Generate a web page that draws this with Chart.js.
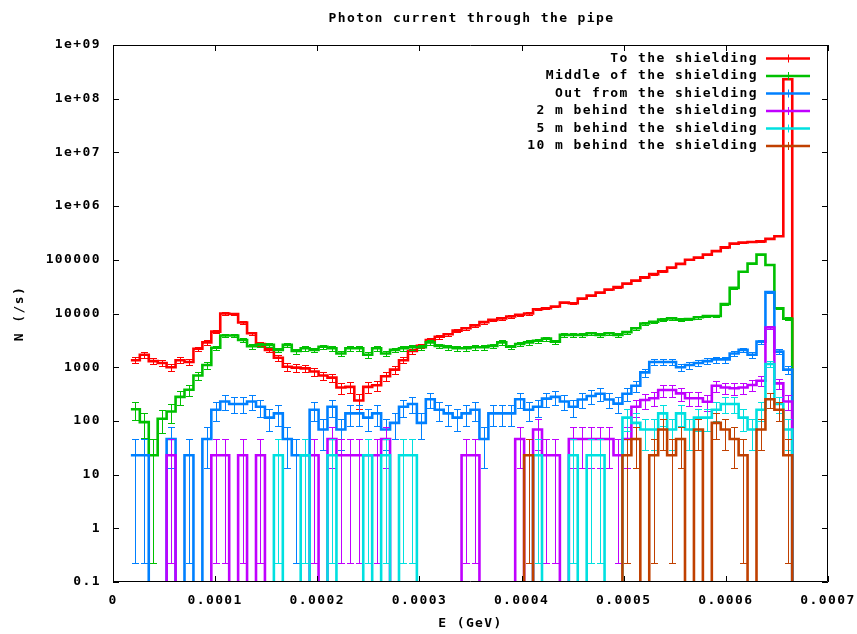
<!DOCTYPE html>
<html>
<head>
<meta charset="utf-8">
<title>Photon current through the pipe</title>
<script src="https://cdn.jsdelivr.net/npm/chart.js@4.4.1/dist/chart.umd.min.js"></script>
<style>
  html, body { margin: 0; padding: 0; background: #fff; }
  #chart { display: block; }
</style>
</head>
<body>
<canvas id="chart" width="857" height="634"></canvas>
<script>
// energy binning: 80 bins over 0 .. 0.0007 GeV, filled from bin 2 to bin 75
const BIN_WIDTH = 0.0007 / 80;
const FIRST_BIN = 2;
const N_BINS = 74;
// left edges of the filled bins plus the closing edge
const binEdges = Array.from({ length: N_BINS + 1 }, (_, i) => (FIRST_BIN + i) * BIN_WIDTH);

// photon rates N (/s) per bin, 0 = empty bin
const toShielding = [
  1350, 1700, 1300, 1200, 1000, 1350, 1250, 2200, 2900, 4600,
  10000, 9800, 6800, 4300, 2700, 2100, 1500, 1020, 980, 950,
  830, 700, 640, 420, 430, 240, 430, 460, 680, 900,
  1350, 2000, 2500, 3200, 3700, 4100, 4800, 5300, 6000, 6900,
  7600, 8100, 8800, 9500, 10000, 12000, 12500, 13500, 16000, 15500,
  19000, 21500, 24500, 28000, 31000, 36000, 41000, 47000, 54000, 61000,
  72000, 84000, 100000, 110000, 125000, 145000, 170000, 200000, 210000, 215000,
  220000, 245000, 275000, 230000000
];
const middleOfShielding = [
  165, 95, 23, 110, 150, 280, 380, 700, 1100, 2300,
  3900, 3900, 3200, 2450, 2600, 2600, 2100, 2600, 2000, 2250,
  2100, 2400, 2250, 1800, 2250, 2250, 1700, 2250, 1800, 2100,
  2250, 2350, 2350, 2900, 2500, 2350, 2250, 2250, 2350, 2350,
  2500, 2900, 2400, 2700, 2900, 3100, 3400, 3000, 4000, 4000,
  4000, 4300, 4000, 4300, 4000, 4500, 5300, 6500, 7000, 7700,
  8100, 7700, 7900, 8500, 9000, 9000, 15000, 30000, 60000, 85000,
  125000, 80000, 12500, 8000
];
const outFromShielding = [
  23, 23, 0, 0, 46, 0, 23, 0, 46, 161,
  230, 207, 207, 230, 184, 115, 138, 46, 23, 23,
  161, 69, 184, 69, 138, 138, 115, 138, 69, 92,
  184, 207, 92, 253, 161, 138, 115, 138, 161, 46,
  138, 138, 138, 253, 161, 184, 260, 280, 230, 184,
  250, 290, 320, 250, 210, 320, 450, 800, 1250, 1250,
  1250, 1000, 1100, 1200, 1300, 1400, 1400, 1800, 2100, 1700,
  3000, 25000, 1950, 900
];
const behind2m = [
  0, 0, 0, 0, 23, 0, 0, 0, 0, 23,
  23, 0, 23, 0, 23, 0, 0, 0, 0, 0,
  23, 0, 46, 23, 23, 23, 23, 23, 46, 0,
  0, 0, 0, 0, 0, 0, 0, 23, 23, 0,
  0, 0, 0, 46, 0, 69, 23, 23, 0, 46,
  46, 46, 46, 46, 23, 46, 184, 245, 264, 376,
  376, 326, 264, 264, 228, 450, 420, 405, 420, 466,
  560, 5500, 500, 230
];
const behind5m = [
  0, 0, 0, 0, 0, 0, 0, 0, 0, 0,
  0, 0, 0, 0, 0, 0, 23, 0, 0, 23,
  0, 0, 23, 0, 0, 0, 23, 0, 23, 0,
  23, 23, 0, 0, 0, 0, 0, 0, 0, 0,
  0, 0, 0, 0, 0, 23, 0, 0, 0, 23,
  0, 23, 23, 0, 0, 115, 92, 69, 69, 138,
  69, 138, 69, 115, 115, 161, 207, 207, 115, 69,
  161, 1150, 207, 69
];
const behind10m = [
  0, 0, 0, 0, 0, 0, 0, 0, 0, 0,
  0, 0, 0, 0, 0, 0, 0, 0, 0, 0,
  0, 0, 0, 0, 0, 0, 0, 0, 0, 0,
  0, 0, 0, 0, 0, 0, 0, 0, 0, 0,
  0, 0, 0, 0, 23, 0, 0, 0, 0, 0,
  0, 0, 0, 0, 0, 23, 46, 0, 23, 69,
  23, 46, 0, 69, 0, 92, 69, 46, 23, 0,
  69, 253, 161, 23
];

const xTickValues = [0, 0.0001, 0.0002, 0.0003, 0.0004, 0.0005, 0.0006, 0.0007];
const xTickLabels = ['0', '0.0001', '0.0002', '0.0003', '0.0004', '0.0005', '0.0006', '0.0007'];
const yTickValues = [0.1, 1, 10, 100, 1000, 1e4, 1e5, 1e6, 1e7, 1e8, 1e9];
const yTickLabels = ['0.1', '1', '10', '100', '1000', '10000', '100000', '1e+06', '1e+07', '1e+08', '1e+09'];

const series = [
  { label: 'To the shielding', values: toShielding, color: '#ff0000' },
  { label: 'Middle of the shielding', values: middleOfShielding, color: '#00c000' },
  { label: 'Out from the shielding', values: outFromShielding, color: '#0080ff' },
  { label: '2 m behind the shielding', values: behind2m, color: '#c000ff' },
  { label: '5 m behind the shielding', values: behind5m, color: '#00e0e0' },
  { label: '10 m behind the shielding', values: behind10m, color: '#c04000' }
];

const TITLE = 'Photon current through the pipe';
// rate of a single counted photon; bars are the Poisson error sqrt(n) of the count
const ONE_COUNT = 22.9;
const FLOOR = 0.01;      // empty bins are sent below the axis minimum
const CAP = 3.5;
const TICK = 6;
const LINE_WIDTH = 2.6;
const FONT = { family: '"DejaVu Sans Mono", monospace', size: 13, weight: 'bold' };
const FONT_CSS = 'bold 13px "DejaVu Sans Mono", monospace';

const spacing = {
  id: 'spacing',
  beforeDraw(chart) {
    chart.ctx.letterSpacing = '1.4px';
  }
};

const errorBars = {
  id: 'errorBars',
  afterDatasetDraw(chart, args) {
    const s = series[args.index];
    const { ctx, chartArea: a, scales: { x, y } } = chart;
    ctx.save();
    ctx.beginPath();
    ctx.rect(a.left, a.top, a.width, a.height);
    ctx.clip();
    ctx.strokeStyle = s.color;
    ctx.lineWidth = 1;
    ctx.beginPath();
    s.values.forEach((v, i) => {
      if (v <= 0) return;
      const err = Math.sqrt(v * ONE_COUNT);
      const px = Math.round(x.getPixelForValue(binEdges[i] + BIN_WIDTH / 2)) + 0.5;
      const top = Math.round(y.getPixelForValue(v + err)) + 0.5;
      const bottom = Math.round(y.getPixelForValue(Math.max(v - err, v / 100))) + 0.5;
      ctx.moveTo(px, top); ctx.lineTo(px, bottom);
      ctx.moveTo(px - CAP, top); ctx.lineTo(px + CAP, top);
      ctx.moveTo(px - CAP, bottom); ctx.lineTo(px + CAP, bottom);
    });
    ctx.stroke();
    ctx.restore();
  }
};

// border box with inward ticks on all four sides
const frame = {
  id: 'frame',
  afterDatasetsDraw(chart) {
    const { ctx, chartArea: a, scales: { x, y } } = chart;
    ctx.save();
    ctx.strokeStyle = '#000';
    ctx.lineWidth = 1;
    ctx.beginPath();
    x.ticks.forEach(t => {
      const px = Math.round(x.getPixelForValue(t.value)) + 0.5;
      ctx.moveTo(px, a.bottom); ctx.lineTo(px, a.bottom - TICK);
      ctx.moveTo(px, a.top); ctx.lineTo(px, a.top + TICK);
    });
    y.ticks.forEach(t => {
      const py = Math.round(y.getPixelForValue(t.value)) + 0.5;
      ctx.moveTo(a.left, py); ctx.lineTo(a.left + TICK, py);
      ctx.moveTo(a.right, py); ctx.lineTo(a.right - TICK, py);
    });
    ctx.rect(a.left + 0.5, a.top + 0.5, a.width - 1, a.height - 1);
    ctx.stroke();
    ctx.restore();
  }
};

// title centred over the plot, key in the top right corner
const header = {
  id: 'header',
  afterDraw(chart) {
    const { ctx, chartArea: a } = chart;
    ctx.save();
    ctx.font = FONT_CSS;
    ctx.fillStyle = '#000';
    ctx.textAlign = 'center';
    ctx.textBaseline = 'middle';
    ctx.fillText(TITLE, (a.left + a.right) / 2 + 1, 19);

    const lineEnd = a.right - 18;
    const lineStart = lineEnd - 44;
    ctx.textAlign = 'right';
    series.forEach((s, i) => {
      const cy = a.top + 13.5 + i * 17.5;
      ctx.fillStyle = '#000';
      ctx.fillText(s.label, lineStart - 8, cy);
      ctx.strokeStyle = s.color;
      ctx.lineWidth = LINE_WIDTH;
      ctx.beginPath();
      ctx.moveTo(lineStart, cy); ctx.lineTo(lineEnd, cy);
      ctx.stroke();
      ctx.lineWidth = 1;
      const mx = Math.round((lineStart + lineEnd) / 2) + 0.5;
      ctx.beginPath();
      ctx.moveTo(mx, cy - 4); ctx.lineTo(mx, cy + 4);
      ctx.stroke();
    });
    ctx.restore();
  }
};

new Chart(document.getElementById('chart'), {
  type: 'line',
  data: {
    datasets: series.map((s, i) => ({
      label: s.label,
      data: binEdges.map((e, j) => ({ x: e, y: j < s.values.length && s.values[j] > 0 ? s.values[j] : FLOOR })),
      borderColor: s.color,
      backgroundColor: s.color,
      borderWidth: LINE_WIDTH,
      stepped: 'before',
      pointRadius: 0,
      fill: false,
      clip: 0,
      order: series.length - i
    }))
  },
  options: {
    responsive: false,
    animation: false,
    devicePixelRatio: 1,
    layout: { padding: { left: 0, right: 29, top: 45, bottom: 0 } },
    plugins: {
      legend: { display: false },
      tooltip: { enabled: false },
      title: { display: false }
    },
    scales: {
      x: {
        type: 'linear',
        min: 0,
        max: 0.0007,
        afterBuildTicks: s => { s.ticks = xTickValues.map(v => ({ value: v })); },
        afterFit: s => { s.height = 52; s.paddingLeft = 0; s.paddingRight = 0; },
        grid: { display: false, drawTicks: false },
        border: { display: false },
        ticks: {
          autoSkip: false,
          maxRotation: 0,
          padding: 11,
          color: '#000',
          font: FONT,
          callback: (v, i) => xTickLabels[i]
        },
        title: { display: true, text: 'E (GeV)', color: '#000', font: FONT, padding: { top: 0, bottom: 3 } }
      },
      y: {
        type: 'logarithmic',
        min: 0.1,
        max: 1e9,
        afterBuildTicks: s => { s.ticks = yTickValues.map(v => ({ value: v })); },
        afterFit: s => { s.width = 113; },
        grid: { display: false, drawTicks: false },
        border: { display: false },
        ticks: {
          autoSkip: false,
          padding: 12,
          color: '#000',
          font: FONT,
          callback: (v, i) => yTickLabels[i]
        },
        title: { display: true, text: 'N (/s)', color: '#000', font: FONT, padding: { top: 12, bottom: 0 } }
      }
    }
  },
  plugins: [spacing, errorBars, frame, header]
});
</script>
</body>
</html>
